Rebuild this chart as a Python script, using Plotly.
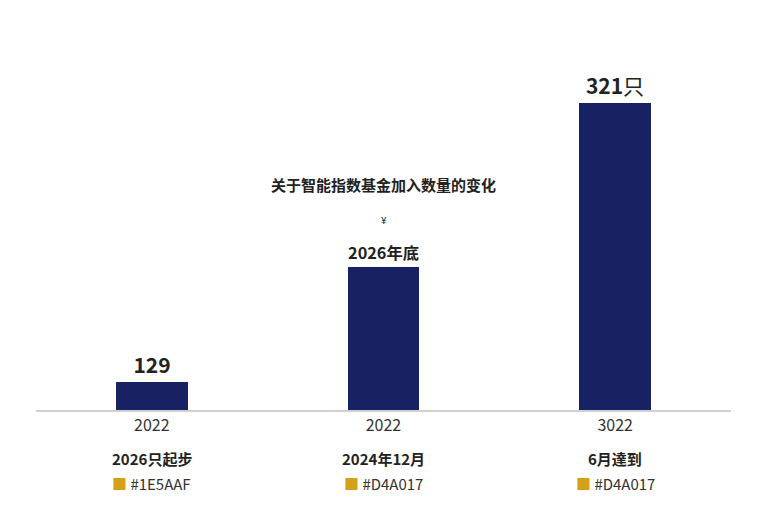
import plotly.graph_objects as go

positions = [0, 1, 2]
tick_labels = ["2022", "2022", "3022"]
bar_values = [29, 150, 321]
bar_labels = ["<b>129</b>", "<b>2026年底</b>", "<b>321</b>只"]
sub_labels = ["2026只起步", "2024年12月", "6月達到"]
swatch_labels = ["#1E5AAF", "#D4A017", "#D4A017"]
title_text = "关于智能指数基金加入数量的变化"

FONT = "Noto Sans CJK SC, Noto Sans, sans-serif"

fig = go.Figure()
fig.add_trace(go.Bar(
    x=positions,
    y=bar_values,
    width=0.31,
    marker=dict(color="#172163", line=dict(width=0)),
    text=bar_labels,
    textposition="outside",
    cliponaxis=False,
    textfont=dict(family=FONT, size=21, color="#222222"),
    hoverinfo="skip",
))

for x, sub, sw in zip(positions, sub_labels, swatch_labels):
    fig.add_annotation(x=x, y=-0.175, xref="x", yref="paper", text="<b>" + sub + "</b>",
                       showarrow=False, font=dict(family=FONT, size=15, color="#222222"))
    fig.add_annotation(x=x, y=-0.245, xref="x", yref="paper",
                       text="<span style='color:#D4A017'>■</span> " + sw,
                       showarrow=False, font=dict(family=FONT, size=15, color="#333333"))

fig.add_annotation(x=0.5, y=0.645, xref="paper", yref="paper", text="<b>" + title_text + "</b>",
                   showarrow=False, font=dict(family=FONT, size=15, color="#222222"))
fig.add_annotation(x=1, y=0.545, xref="x", yref="paper", text="¥",
                   showarrow=False, font=dict(family=FONT, size=10, color="#222222"))

fig.update_layout(
    width=768, height=512,
    margin=dict(l=28, r=45, t=52, b=110),
    paper_bgcolor="white", plot_bgcolor="white",
    showlegend=False,
    bargap=0,
    xaxis=dict(tickmode="array", tickvals=positions, ticktext=tick_labels,
               range=[-0.5, 2.5], showgrid=False, zeroline=False,
               showline=True, linecolor="#d0d0d0", linewidth=1.5,
               ticks="", ticklen=8, tickcolor="white",
               tickfont=dict(family=FONT, size=16, color="#333333")),
    yaxis=dict(range=[0, 366], visible=False),
)

fig.write_html("out.html")
